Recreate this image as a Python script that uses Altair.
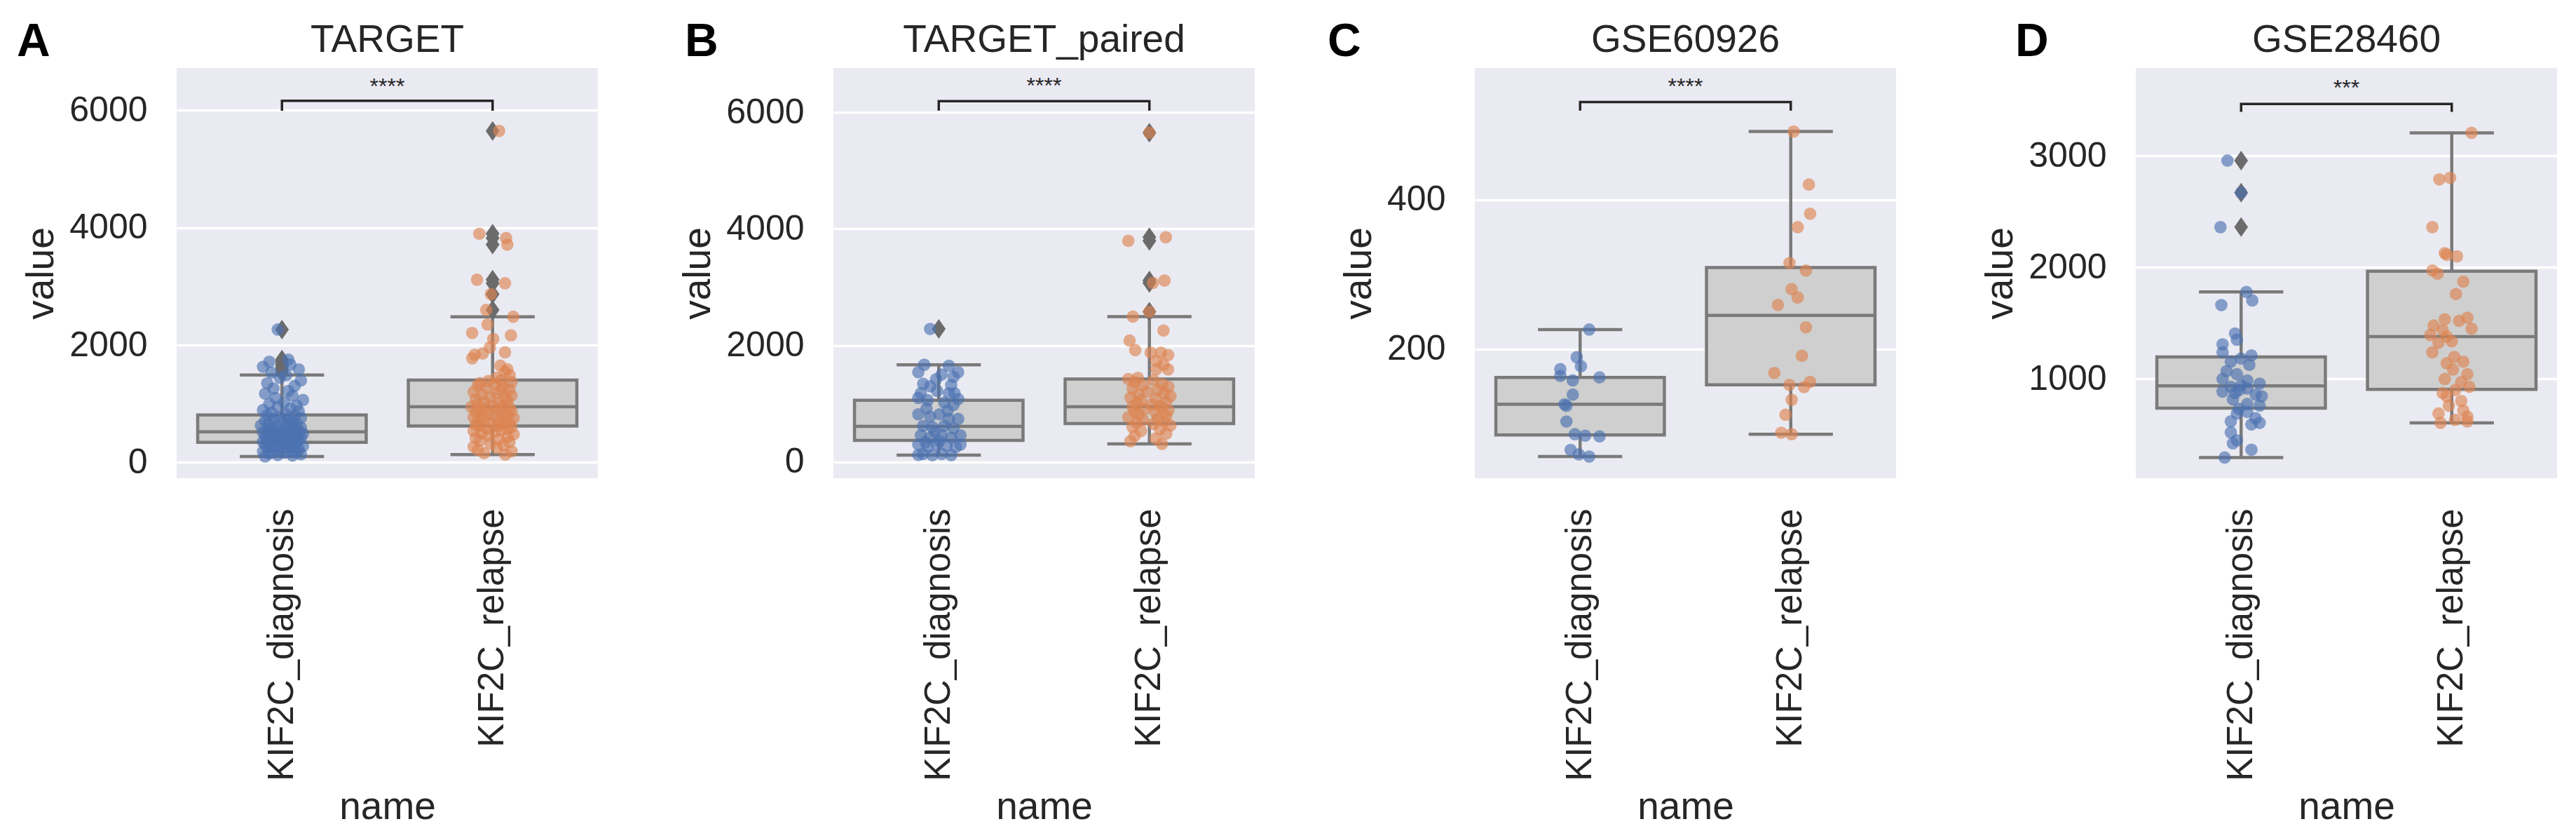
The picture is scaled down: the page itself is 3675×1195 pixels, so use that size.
import altair as alt
import pandas as pd

FONT = "Liberation Sans"
TEXT = "#262626"
CATS = ["KIF2C_diagnosis", "KIF2C_relapse"]
COLORS = ["#4C72B0", "#DD8452"]
BOX_FILL = "#cfcfcf"
LINE = "#7a7a7a"
FLIER = "#6b6b6b"

# ---------------- Panel A: TARGET ----------------
A_DIAG = [101, 118, 127, 140, 152, 166, 171, 183, 197, 204,
          219, 226, 238, 247, 255, 268, 279, 286, 299, 305,
          318, 327, 336, 344, 351, 363, 372, 380, 389, 398,
          404, 417, 423, 431, 442, 449, 456, 468, 475, 483,
          492, 499, 507, 513, 520, 528, 537, 549, 556, 571,
          583, 592, 604, 618, 629, 641, 655, 667, 682, 694,
          711, 726, 742, 759, 774, 790, 806, 823, 846, 871,
          893, 918, 944, 968, 997, 1024, 1063, 1097, 1138, 1172,
          1216, 1259, 1302, 1348, 1397, 1442, 1488, 1532, 1584, 1629,
          1668, 1716, 1752, 2264]
A_DIAG_JIT = [-0.08, 0.05, -0.02, 0.09, -0.06, 0.01, 0.07, -0.09, 0.03, -0.04,
              0.08, -0.01, 0.06, -0.07, 0.02, -0.05, 0.10, -0.03, 0.04, -0.08,
              0.00, 0.07, -0.06, 0.03, -0.09, 0.05, -0.02, 0.08, -0.05, 0.01,
              0.06, -0.07, 0.09, -0.03, 0.02, -0.08, 0.04, -0.01, 0.07, -0.06,
              0.10, -0.04, 0.03, -0.09, 0.05, -0.02, 0.08, -0.07, 0.01, 0.06,
              -0.05, 0.09, -0.03, 0.04, -0.10, 0.02, 0.07, -0.06, 0.00, 0.05,
              -0.08, 0.03, -0.04, 0.09, -0.01, 0.06, -0.07, 0.02, -0.05, 0.08,
              -0.09, 0.04, -0.02, 0.07, -0.06, 0.01, 0.10, -0.03, 0.05, -0.08,
              0.03, -0.04, 0.06, -0.07, 0.09, -0.01, 0.02, -0.05, 0.08, -0.09,
              0.04, -0.06, 0.03, -0.02]
A_REL = [132, 158, 189, 214, 246, 268, 297, 322, 348, 371,
         393, 417, 436, 458, 479, 497, 518, 536, 553, 571,
         586, 602, 615, 624, 639, 651, 668, 682, 697, 711,
         726, 742, 757, 771, 786, 802, 818, 833, 849, 863,
         878, 894, 909, 923, 937, 946, 956, 975, 991, 1012,
         1031, 1052, 1073, 1094, 1116, 1139, 1158, 1180, 1203, 1225,
         1247, 1268, 1291, 1312, 1333, 1352, 1371, 1388, 1400, 1443,
         1485, 1546, 1588, 1649, 1773, 1835, 1856, 1876, 1959, 2103,
         2165, 2206, 2350, 2482, 2598, 2866, 3052, 3113, 3711, 3823,
         3897, 5649]
A_REL_JIT = [0.06, -0.04, 0.09, -0.07, 0.02, -0.09, 0.05, -0.01, 0.08, -0.06,
             0.03, -0.08, 0.07, -0.02, 0.10, -0.05, 0.01, -0.09, 0.04, 0.07,
             -0.03, 0.09, -0.06, 0.02, -0.08, 0.05, -0.01, 0.08, -0.07, 0.03,
             0.06, -0.04, 0.10, -0.09, 0.01, -0.05, 0.07, -0.02, 0.04, -0.08,
             0.09, -0.06, 0.02, -0.03, 0.08, -0.10, 0.05, 0.00, -0.07, 0.03,
             -0.04, 0.07, -0.08, 0.06, -0.01, 0.09, -0.05, 0.02, -0.09, 0.04,
             0.08, -0.03, 0.05, -0.07, 0.01, -0.06, 0.09, -0.02, 0.04, 0.02,
             0.081, 0.059, 0.07, 0.037, -0.097, -0.085, -0.047, 0.059, -0.013, 0.003,
             0.087, -0.097, -0.024, 0.098, -0.03, -0.008, 0.059, -0.074, 0.07, 0.064,
             -0.063, 0.031]
A_Q1, A_MED, A_Q3 = [341, 619], [521, 948], [809, 1402]
A_LO, A_HI = [101, 132], [1488, 2482]
A_OUT_DIAG = [1532, 1584, 1629, 1668, 1716, 1752, 2264]
A_OUT_REL = [2598, 2866, 3052, 3113, 3711, 3823, 3897, 5649]

# ---------------- Panel B: TARGET_paired ----------------
B_DIAG = [1668, 1650, 1540, 1540, 1500, 1460, 1420, 1339, 1319, 1299,
          1219, 1179, 1179, 1179, 1099, 1079, 1059, 1019, 978, 918,
          878, 818, 818, 778, 738, 738, 618, 618, 597, 577,
          517, 457, 457, 457, 417, 417, 357, 337, 297, 297,
          297, 277, 257, 257, 136, 136, 120, 116, 116, 2282]
B_DIAG_JIT = [-0.069, 0.048, -0.097, 0.092, 0.014, 0.07, -0.013, -0.074, 0.059, -0.041,
              -0.008, -0.085, 0.048, 0.075, -0.097, 0.092, -0.052, 0.026, 0.07, -0.058,
              0.042, -0.097, 0.003, -0.041, 0.048, 0.092, -0.074, 0.026, -0.03, 0.07,
              -0.019, -0.085, 0.014, 0.103, -0.041, 0.059, 0.003, -0.063, -0.097, -0.008,
              0.103, 0.037, -0.052, 0.081, -0.074, 0.014, -0.097, -0.03, 0.059, -0.041]
B_REL = [5649, 3856, 3794, 3113, 3072, 2577, 2495, 2256, 2082, 1918,
         1876, 1876, 1835, 1732, 1670, 1588, 1588, 1443, 1423, 1402,
         1371, 1340, 1318, 1290, 1262, 1235, 1204, 1180, 1153, 1129,
         1104, 1082, 1057, 1031, 1008, 985, 962, 948, 930, 906,
         884, 861, 839, 815, 790, 768, 742, 719, 694, 671,
         652, 626, 598, 566, 531, 488, 447, 402, 356, 309]
B_REL_JIT = [0.0, 0.078, -0.1, 0.072, 0.017, 0.0, -0.078, 0.067, -0.094, -0.067,
             0.006, 0.055, 0.089, 0.033, 0.067, 0.089, 0.033, -0.055, -0.1, 0.02,
             -0.07, 0.06, -0.03, 0.09, -0.08, 0.04, -0.01, 0.07, -0.05, 0.1,
             -0.09, 0.03, -0.04, 0.08, -0.06, 0.01, 0.05, -0.08, 0.06, -0.02,
             0.09, -0.07, 0.03, -0.05, 0.08, -0.1, 0.04, -0.03, 0.07, -0.06,
             0.02, 0.1, -0.08, 0.05, -0.04, 0.08, -0.07, 0.03, -0.09, 0.06]
B_Q1, B_MED, B_Q3 = [369, 660], [610, 948], [1059, 1423]
B_LO, B_HI = [116, 309], [1668, 2495]
B_OUT_DIAG = [2282]
B_OUT_REL = [2577, 3072, 3113, 3794, 3856, 5649]

# ---------------- Panel C: GSE60926 ----------------
C_DIAG = [226, 189, 177, 173, 164, 162, 158, 139, 126, 124, 103, 86, 84, 83, 65, 59, 56]
C_DIAG_JIT = [0.043, -0.016, 0.004, -0.094, -0.094, 0.092, -0.035, -0.035, -0.074,
              -0.065, -0.065, -0.025, 0.024, 0.092, -0.045, -0.006, 0.043]
C_REL = [491, 420, 381, 363, 315, 305, 280, 269, 259, 229, 191, 168, 156, 152, 149, 132, 112, 88, 86]
C_REL_JIT = [0.014, 0.086, 0.092, 0.033, -0.006, 0.072, 0.004, 0.033, -0.061, 0.072,
             0.053, -0.078, 0.092, -0.006, 0.063, 0.004, -0.025, -0.045, 0.004]
C_Q1, C_MED, C_Q3 = [85, 152], [126, 245], [162, 309]
C_LO, C_HI = [56, 86], [226, 491]
C_OUT_DIAG = []
C_OUT_REL = []

# ---------------- Panel D: GSE28460 ----------------
D_DIAG = [2958, 2670, 2361, 1780, 1704, 1662, 1408, 1352, 1310, 1239,
          1211, 1183, 1155, 1127, 1070, 1042, 1000, 986, 958, 944,
          930, 915, 901, 887, 873, 859, 845, 817, 775, 761,
          732, 704, 690, 648, 620, 606, 592, 521, 451, 423,
          366, 296]
D_DIAG_JIT = [-0.065, 0.0, -0.098, 0.025, 0.053, -0.094, -0.029, -0.02, -0.088, -0.088,
              0.049, 0.0, -0.049, 0.039, -0.069, -0.02, -0.088, 0.029, 0.088, 0.0,
              -0.049, 0.029, -0.01, -0.088, -0.029, 0.069, 0.098, -0.039, 0.029, 0.088,
              -0.01, 0.029, -0.02, 0.069, -0.049, 0.088, 0.049, -0.049, -0.02, -0.039,
              0.049, -0.078]
D_REL = [3206, 2803, 2789, 2361, 2127, 2113, 2099, 1972, 1944, 1873,
         1761, 1549, 1535, 1521, 1479, 1451, 1437, 1394, 1380, 1338,
         1324, 1239, 1197, 1155, 1141, 1085, 1042, 1000, 972, 930,
         901, 873, 845, 803, 761, 718, 690, 662, 634, 620,
         606]
D_REL_JIT = [0.094, -0.008, -0.059, -0.092, -0.033, -0.024, 0.025, -0.092, -0.067, 0.055,
             0.02, 0.074, -0.033, 0.035, -0.086, 0.094, -0.043, -0.102, -0.024, 0.0,
             -0.063, -0.092, 0.012, 0.055, -0.024, 0.006, 0.074, -0.033, 0.045, 0.084,
             0.016, -0.043, -0.024, 0.045, -0.014, 0.055, -0.063, 0.074, 0.016, 0.074,
             -0.053]
D_Q1, D_MED, D_Q3 = [738, 907], [938, 1380], [1197, 1966]
D_LO, D_HI = [296, 606], [1780, 3206]
D_OUT_DIAG = [2361, 2670, 2958]
D_OUT_REL = []

PANELS = [
    dict(letter="A", title="TARGET", diag=A_DIAG, dj=A_DIAG_JIT, rel=A_REL, rj=A_REL_JIT,
         q1=A_Q1, med=A_MED, q3=A_Q3, lo=A_LO, hi=A_HI, od=A_OUT_DIAG, orl=A_OUT_REL,
         ydom=[-270, 6720], yticks=[0, 2000, 4000, 6000],
         br_leg=5990, br_top=6160, star_y=6400, stars="****", lx=-228),
    dict(letter="B", title="TARGET_paired", diag=B_DIAG, dj=B_DIAG_JIT, rel=B_REL, rj=B_REL_JIT,
         q1=B_Q1, med=B_MED, q3=B_Q3, lo=B_LO, hi=B_HI, od=B_OUT_DIAG, orl=B_OUT_REL,
         ydom=[-280, 6760], yticks=[0, 2000, 4000, 6000],
         br_leg=6028, br_top=6190, star_y=6446, stars="****", lx=-212),
    dict(letter="C", title="GSE60926", diag=C_DIAG, dj=C_DIAG_JIT, rel=C_REL, rj=C_REL_JIT,
         q1=C_Q1, med=C_MED, q3=C_Q3, lo=C_LO, hi=C_HI, od=C_OUT_DIAG, orl=C_OUT_REL,
         ydom=[27, 576], yticks=[200, 400],
         br_leg=519, br_top=530.5, star_y=550.5, stars="****", lx=-210),
    dict(letter="D", title="GSE28460", diag=D_DIAG, dj=D_DIAG_JIT, rel=D_REL, rj=D_REL_JIT,
         q1=D_Q1, med=D_MED, q3=D_Q3, lo=D_LO, hi=D_HI, od=D_OUT_DIAG, orl=D_OUT_REL,
         ydom=[110, 3787], yticks=[1000, 2000, 3000],
         br_leg=3394, br_top=3465, star_y=3604, stars="***", lx=-172),
]

W, H = 601, 585
LABEL_EXPR = f"datum.value < 0.5 ? '{CATS[0]}' : '{CATS[1]}'"


def make_panel(p):
    n_d, n_r = min(len(p["diag"]), len(p["dj"])), min(len(p["rel"]), len(p["rj"]))
    pts = pd.DataFrame({
        "name": [CATS[0]] * n_d + [CATS[1]] * n_r,
        "idx": [0] * n_d + [1] * n_r,
        "value": p["diag"][:n_d] + p["rel"][:n_r],
        "jit": p["dj"][:n_d] + p["rj"][:n_r],
    })
    box = pd.DataFrame({"name": CATS, "idx": [0, 1], "q1": p["q1"], "med": p["med"],
                        "q3": p["q3"], "lo": p["lo"], "hi": p["hi"]})
    outl = pd.DataFrame({"idx": [0] * len(p["od"]) + [1] * len(p["orl"]),
                         "value": p["od"] + p["orl"]})
    br = pd.DataFrame({"idx": [0, 0, 1, 1],
                       "y": [p["br_leg"], p["br_top"], p["br_top"], p["br_leg"]],
                       "o": [0, 1, 2, 3]})
    ann = pd.DataFrame({"y": [p["star_y"]], "t": [p["stars"]], "letter": [p["letter"]],
                        "title": [p["title"]]})

    xs = alt.Scale(domain=[-0.5, 1.5], nice=False, zero=False)
    xa = alt.Axis(values=[0, 1], labelExpr=LABEL_EXPR, labelAngle=-90, grid=False,
                  ticks=False, domain=False, labelPadding=43, labelFontSize=51, labelLimit=1000,
                  labelFont=FONT, labelColor=TEXT, title="name", titleFontSize=55,
                  titleFont=FONT, titleColor=TEXT, titleFontWeight="normal",
                  titleY=485, titleBaseline="alphabetic")
    ys = alt.Scale(domain=p["ydom"], nice=False, zero=False)
    ya = alt.Axis(values=p["yticks"], format="d", grid=True, gridColor="white", gridWidth=3.5,
                  ticks=False, domain=False, labelPadding=42, labelFontSize=50, labelFont=FONT,
                  labelColor=TEXT, title="value", titleFontSize=55, titleFont=FONT,
                  titleColor=TEXT, titleFontWeight="normal", titlePadding=11)

    def X(f):
        return alt.X(f, scale=xs, axis=xa)

    def Y(f):
        return alt.Y(f, scale=ys, axis=ya)

    bx = alt.Chart(box)
    whisk = bx.mark_rule(color=LINE, strokeWidth=4.5).encode(x=X("idx:Q"), y=Y("lo:Q"), y2="hi:Q")
    caps = bx.transform_fold(["lo", "hi"], as_=["k", "v"]).transform_calculate(
        cl="datum.idx - 0.2", cr="datum.idx + 0.2"
    ).mark_rule(color=LINE, strokeWidth=4.5).encode(x=X("cl:Q"), x2="cr:Q", y=Y("v:Q"))
    body = bx.transform_calculate(bl="datum.idx - 0.4", brr="datum.idx + 0.4").mark_rect(
        fill=BOX_FILL, stroke=LINE, strokeWidth=4.5
    ).encode(x=X("bl:Q"), x2="brr:Q", y=Y("q1:Q"), y2="q3:Q")
    med = bx.transform_calculate(bl="datum.idx - 0.4", brr="datum.idx + 0.4").mark_rule(
        color=LINE, strokeWidth=4.5
    ).encode(x=X("bl:Q"), x2="brr:Q", y=Y("med:Q"))
    fl = alt.Chart(outl).mark_point(
        shape="M0,-1L0.7,0L0,1L-0.7,0Z", filled=True, size=784, color=FLIER, opacity=1
    ).encode(x=X("idx:Q"), y=Y("value:Q"))
    strip = alt.Chart(pts).transform_calculate(pos="datum.idx + datum.jit").mark_circle(
        size=314, opacity=0.65
    ).encode(x=X("pos:Q"), y=Y("value:Q"),
             color=alt.Color("name:N", scale=alt.Scale(domain=CATS, range=COLORS), legend=None))
    bracket = alt.Chart(br).mark_line(color=TEXT, strokeWidth=3.5).encode(
        x=X("idx:Q"), y=Y("y:Q"), order="o:Q")
    mid = alt.Chart(ann).transform_calculate(xm="(0 + 1) / 2")
    stars = mid.mark_text(
        fontSize=32, color=TEXT, baseline="middle", font=FONT
    ).encode(x=X("xm:Q"), y=Y("y:Q"), text="t:N")
    title = mid.mark_text(
        fontSize=55, color=TEXT, baseline="alphabetic", align="center", font=FONT
    ).encode(x=X("xm:Q"), y=alt.value(-23), text="title:N")
    letter = alt.Chart(ann).mark_text(
        fontSize=66, fontWeight="bold", align="left", baseline="alphabetic", color="black", font=FONT
    ).encode(x=alt.value(p["lx"]), y=alt.value(-17), text="letter:N")

    return alt.layer(whisk, caps, body, med, fl, strip, bracket, stars, title, letter).properties(
        width=W, height=H)


pa, pb, pc, pd_ = [make_panel(p) for p in PANELS]
chart = alt.hconcat(
    alt.hconcat(pa, pb, spacing=115),
    alt.hconcat(pc, pd_, spacing=121),
    spacing=104,
).properties(
    padding={"left": 16, "top": 19, "right": 5, "bottom": 5},
    background="white",
).configure_view(fill="#EAEAF2", stroke=None)

chart.save("out.html", embed_options={"renderer": "svg", "actions": False})
